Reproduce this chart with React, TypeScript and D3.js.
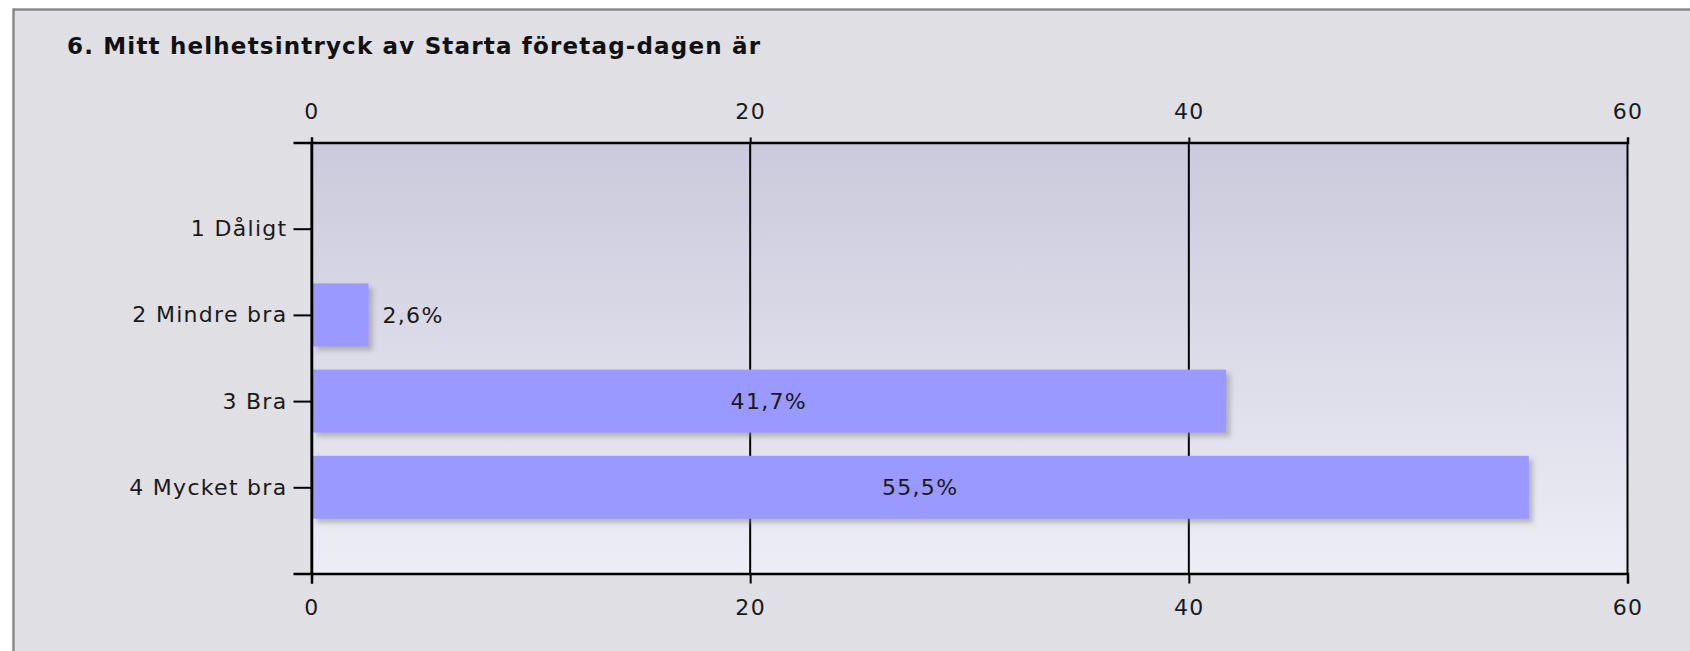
import React, { useEffect, useRef } from 'react';
import * as d3 from 'd3';

const title = '6. Mitt helhetsintryck av Starta företag-dagen är';
const categories = ['1 Dåligt', '2 Mindre bra', '3 Bra', '4 Mycket bra'];
const values = [0, 2.6, 41.7, 55.5];
const xTicks = [0, 20, 40, 60];

const W = 1690;
const H = 651;
const FONT = 'Tahoma, "DejaVu Sans", Verdana, sans-serif';

export default function App() {
  const svgRef = useRef<SVGSVGElement>(null);

  useEffect(() => {
    if (!svgRef.current) return;
    const svg = d3.select(svgRef.current);
    svg.selectAll('*').remove();

    const plot = { left: 311.5, right: 1627.5, top: 142.5, bottom: 573.5 };

    const x = d3.scaleLinear().domain([0, 60]).range([plot.left, plot.right]);
    const y = d3.scalePoint<string>().domain(categories).range([plot.top, plot.bottom]).padding(1);
    const barH = y.step() * 0.73;

    const defs = svg.append('defs');
    const grad = defs.append('linearGradient')
      .attr('id', 'plotBg').attr('x1', 0).attr('y1', 0).attr('x2', 0).attr('y2', 1);
    grad.append('stop').attr('offset', '0%').attr('stop-color', '#cbcadc');
    grad.append('stop').attr('offset', '100%').attr('stop-color', '#ededf6');

    const shadow = defs.append('filter').attr('id', 'barShadow')
      .attr('x', '-5%').attr('y', '-20%').attr('width', '120%').attr('height', '150%');
    shadow.append('feDropShadow')
      .attr('dx', 4).attr('dy', 4).attr('stdDeviation', 2.5)
      .attr('flood-color', '#8a8a8a').attr('flood-opacity', 0.55);

    // outer frame
    svg.append('rect')
      .attr('x', 13.5).attr('y', 9.5)
      .attr('width', W).attr('height', H)
      .attr('fill', '#e0dfe4')
      .attr('stroke', '#8a8a8a')
      .attr('stroke-width', 2.5);

    svg.append('text')
      .attr('x', 67).attr('y', 54)
      .attr('font-family', FONT)
      .attr('font-size', 23)
      .attr('font-weight', 'bold')
      .attr('fill', '#111')
      .attr('textLength', 693)
      .attr('lengthAdjust', 'spacing')
      .text(title);

    // plot background
    svg.append('rect')
      .attr('x', plot.left).attr('y', plot.top)
      .attr('width', plot.right - plot.left).attr('height', plot.bottom - plot.top)
      .attr('fill', 'url(#plotBg)');

    // vertical grid lines
    svg.append('g')
      .selectAll('line')
      .data(xTicks)
      .join('line')
      .attr('x1', d => x(d)).attr('x2', d => x(d))
      .attr('y1', plot.top).attr('y2', plot.bottom)
      .attr('stroke', '#000').attr('stroke-width', 2);

    // bars
    const bars = svg.append('g');
    categories.forEach((c, i) => {
      const v = values[i];
      if (v <= 0) return;
      const cy = y(c) as number;
      bars.append('rect')
        .attr('x', x(0) + 1)
        .attr('y', cy - barH / 2)
        .attr('width', x(v) - x(0) - 1)
        .attr('height', barH)
        .attr('fill', '#9999ff')
        .attr('filter', 'url(#barShadow)');
    });

    // bar labels
    const labels = svg.append('g')
      .attr('font-family', FONT)
      .attr('font-size', 22)
      .attr('letter-spacing', 1.3)
      .attr('fill', '#1a1a1a');
    categories.forEach((c, i) => {
      const v = values[i];
      if (v <= 0) return;
      const cy = y(c) as number;
      const inside = x(v) - x(0) > 120;
      labels.append('text')
        .attr('x', inside ? (x(0) + x(v)) / 2 : x(v) + 14)
        .attr('y', cy)
        .attr('dy', '0.36em')
        .attr('text-anchor', inside ? 'middle' : 'start')
        .text(v.toFixed(1).replace('.', ',') + '%');
    });

    const styleAxis = (g: any) => {
      g.select('.domain').attr('stroke', '#000').attr('stroke-width', 2.5);
      g.selectAll('.tick line').attr('stroke', '#000').attr('stroke-width', 2);
      g.selectAll('.tick text')
        .attr('fill', '#1a1a1a')
        .attr('font-family', FONT)
        .attr('font-size', 22)
        .attr('letter-spacing', 1.3);
      g.attr('font-family', null).attr('font-size', null);
    };

    svg.append('g')
      .attr('transform', `translate(0,${plot.top})`)
      .call(d3.axisTop(x).tickValues(xTicks).tickSize(5).tickSizeOuter(5).tickPadding(19))
      .call(styleAxis);

    svg.append('g')
      .attr('transform', `translate(0,${plot.bottom})`)
      .call(d3.axisBottom(x).tickValues(xTicks).tickSize(10).tickSizeOuter(10).tickPadding(16))
      .call(styleAxis);

    svg.append('g')
      .attr('transform', `translate(${plot.left},0)`)
      .call(d3.axisLeft(y).tickSize(18).tickSizeOuter(18).tickPadding(6))
      .call(styleAxis);
  }, []);

  return (
    <svg
      ref={svgRef}
      width={W}
      height={H}
      style={{ position: 'absolute', left: 0, top: 0, display: 'block', background: '#fff' }}
    />
  );
}
